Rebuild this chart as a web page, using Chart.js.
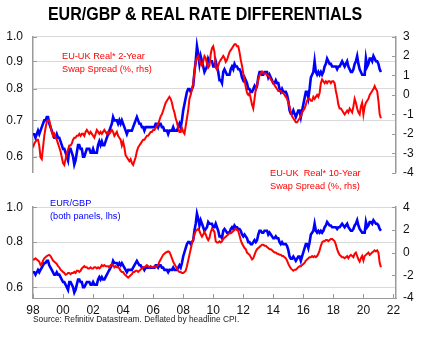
<!DOCTYPE html>
<html>
<head>
<meta charset="utf-8">
<script src="https://cdn.jsdelivr.net/npm/chart.js@4.4.1/dist/chart.umd.min.js"></script>
<style>
  body { margin: 0; background: #fff; }
  #wrap { position: relative; width: 426px; height: 342px; overflow: hidden; font-family: "Liberation Sans", Arial, sans-serif; }
  canvas { position: absolute; left: 0; }
  .txt { position: absolute; white-space: nowrap; z-index: 2; }
  .note { font-size: 9.2px; line-height: 13px; }
  .red { color: #ff0000; }
  .blue { color: #0000ff; }
</style>
</head>
<body>
<div id="wrap">
  <canvas id="topChart" width="426" height="190" style="top:0"></canvas>
  <canvas id="bottomChart" width="426" height="152" style="top:190px"></canvas>

  <div class="txt" id="title" style="left:0;top:4.3px;width:410px;text-align:center;font-weight:bold;font-size:18.5px;line-height:20px;transform:scaleX(0.866);color:#000">EUR/GBP &amp; REAL RATE DIFFERENTIALS</div>
  <div class="txt note red" style="left:62px;top:49.6px">EU-UK Real* 2-Year<br>Swap Spread (%, rhs)</div>
  <div class="txt note red" style="left:270px;top:167px">EU-UK&nbsp; Real* 10-Year<br>Swap Spread (%, rhs)</div>
  <div class="txt note blue" style="left:50px;top:197px">EUR/GBP<br>(both panels, lhs)</div>
  <div class="txt" style="left:33px;top:313.8px;font-size:8.4px;line-height:10px;color:#222">Source: Refinitiv Datastream. Deflated by headline CPI.</div>
</div>

<script>
'use strict';

// #pragma Data (monthly, Jan 1998 - Mar 2021)

let startYear = 1998;

let eurGbp = [
  0.66, 0.66, 0.65, 0.66, 0.67, 0.66, 0.67, 0.68, 0.69, 0.70, 0.70, 0.71, // 1998
  0.71, 0.69, 0.68, 0.67, 0.66, 0.65, 0.65, 0.66, 0.65, 0.65, 0.64, 0.63, // 1999
  0.62, 0.62, 0.61, 0.60, 0.59, 0.62, 0.62, 0.61, 0.60, 0.58, 0.59, 0.61, // 2000
  0.63, 0.63, 0.62, 0.62, 0.60, 0.60, 0.61, 0.62, 0.62, 0.62, 0.61, 0.61, // 2001
  0.62, 0.61, 0.61, 0.61, 0.63, 0.64, 0.63, 0.64, 0.63, 0.63, 0.64, 0.65, // 2002
  0.66, 0.67, 0.68, 0.69, 0.71, 0.70, 0.70, 0.70, 0.69, 0.70, 0.69, 0.70, // 2003
  0.69, 0.68, 0.67, 0.66, 0.67, 0.67, 0.67, 0.67, 0.68, 0.69, 0.70, 0.71, // 2004
  0.70, 0.69, 0.69, 0.68, 0.68, 0.67, 0.68, 0.68, 0.68, 0.68, 0.68, 0.68, // 2005
  0.68, 0.68, 0.69, 0.69, 0.68, 0.69, 0.69, 0.68, 0.68, 0.67, 0.67, 0.67, // 2006
  0.66, 0.67, 0.67, 0.67, 0.68, 0.67, 0.67, 0.67, 0.68, 0.69, 0.68, 0.70, // 2007
  0.73, 0.75, 0.77, 0.79, 0.80, 0.80, 0.79, 0.80, 0.81, 0.86, 0.90, 0.96, // 2008
  0.93, 0.89, 0.92, 0.90, 0.88, 0.86, 0.87, 0.88, 0.91, 0.90, 0.90, 0.90, // 2009
  0.88, 0.88, 0.90, 0.88, 0.86, 0.83, 0.83, 0.82, 0.86, 0.87, 0.86, 0.85, // 2010
  0.85, 0.85, 0.87, 0.88, 0.87, 0.89, 0.88, 0.88, 0.87, 0.87, 0.86, 0.84, // 2011
  0.83, 0.84, 0.83, 0.82, 0.80, 0.80, 0.79, 0.79, 0.80, 0.81, 0.80, 0.81, // 2012
  0.84, 0.86, 0.86, 0.85, 0.85, 0.86, 0.86, 0.86, 0.84, 0.85, 0.84, 0.83, // 2013
  0.82, 0.82, 0.83, 0.82, 0.82, 0.80, 0.79, 0.80, 0.79, 0.79, 0.79, 0.78, // 2014
  0.76, 0.73, 0.72, 0.72, 0.73, 0.72, 0.71, 0.72, 0.73, 0.73, 0.71, 0.73, // 2015
  0.75, 0.77, 0.79, 0.79, 0.77, 0.80, 0.84, 0.85, 0.86, 0.90, 0.86, 0.85, // 2016
  0.86, 0.85, 0.86, 0.85, 0.86, 0.88, 0.89, 0.91, 0.90, 0.89, 0.89, 0.88, // 2017
  0.88, 0.88, 0.88, 0.87, 0.88, 0.88, 0.89, 0.90, 0.89, 0.88, 0.89, 0.90, // 2018
  0.88, 0.87, 0.86, 0.86, 0.87, 0.89, 0.90, 0.92, 0.89, 0.87, 0.86, 0.85, // 2019
  0.85, 0.85, 0.91, 0.88, 0.89, 0.91, 0.91, 0.90, 0.92, 0.91, 0.90, 0.90, // 2020
  0.89, 0.87, 0.86                                                        // 2021
];

let swap2y = [
  -2.7, -2.5, -2.4, -2.3, -2.3, -2.6, -3.2, -3.3, -2.7, -2.1, -1.7, -1.4, // 1998
  -1.3, -1.3, -1.6, -1.9, -2.1, -2.0, -2.2, -2.3, -2.5, -2.7, -2.9, -3.2, // 1999
  -3.5, -3.6, -3.3, -3.0, -2.8, -2.6, -2.6, -2.5, -2.3, -2.2, -2.2, -2.1, // 2000
  -2.1, -2.0, -2.1, -2.0, -2.0, -2.1, -1.9, -1.8, -1.9, -2.0, -1.9, -2.0, // 2001
  -2.1, -2.2, -2.0, -1.8, -1.9, -2.0, -1.9, -2.0, -1.9, -1.8, -1.9, -2.0, // 2002
  -1.9, -2.0, -1.9, -1.8, -1.9, -2.1, -2.0, -1.9, -2.1, -2.2, -2.3, -2.6, // 2003
  -2.4, -2.7, -3.1, -3.2, -3.3, -3.4, -3.3, -3.5, -3.6, -3.4, -3.2, -2.9, // 2004
  -2.7, -2.6, -2.5, -2.4, -2.3, -2.3, -2.2, -2.1, -2.1, -2.0, -1.9, -1.9, // 2005
  -1.8, -1.8, -1.7, -1.6, -1.5, -1.3, -1.1, -1.0, -0.8, -0.6, -0.4, -0.3, // 2006
  -0.2, -0.1, -0.2, -0.4, -0.7, -0.9, -1.2, -1.4, -1.7, -1.9, -1.9, -1.7, // 2007
  -1.9, -2.0, -1.6, -1.2, -0.8, -0.2, 0.0, 0.3, 0.6, 1.2, 1.7, 1.9,       // 2008
  2.0, 1.8, 1.6, 1.5, 1.7, 2.0, 1.9, 1.6, 1.4, 1.5, 2.1, 2.4,             // 2009
  2.5, 2.2, 1.4, 1.3, 1.5, 1.7, 1.8, 1.9, 2.0, 1.9, 1.7, 1.8,             // 2010
  2.0, 2.2, 2.3, 2.4, 2.5, 2.6, 2.6, 2.5, 2.5, 2.2, 1.8, 1.5,             // 2011
  1.1, 0.8, 0.4, 0.1, 0.0, 0.1, -0.2, -0.5, -0.7, -0.2, 0.3, 0.5,         // 2012
  0.8, 1.0, 1.1, 1.2, 1.1, 1.1, 1.1, 1.0, 1.0, 0.9, 0.8, 0.7,             // 2013
  0.6, 0.5, 0.4, 0.3, 0.2, 0.2, 0.2, 0.1, 0.1, 0.0, -0.1, -0.2,           // 2014
  -0.4, -0.6, -0.9, -1.1, -1.2, -1.3, -1.4, -1.4, -1.3, -1.2, -1.1, -0.9, // 2015
  -0.8, -0.7, -0.5, -0.3, -0.2, -0.2, -0.3, -0.3, -0.1, -0.2, -0.1, 0.0,  // 2016
  -0.1, 0.1, 0.6, 0.8, 0.7, 0.6, 0.7, 0.6, 0.7, 0.7, 0.6, 0.7,            // 2017
  0.7, 0.6, 0.2, -0.1, -0.5, -0.7, -0.7, -0.8, -0.9, -1.0, -0.9, -0.8,    // 2018
  -0.9, -0.7, -0.8, -0.9, -0.6, -0.2, -0.4, -0.7, -0.9, -1.0, -0.6, -0.4, // 2019
  -1.0, -0.6, -0.4, -0.3, -0.2, 0.0, 0.1, 0.2, 0.3, 0.45, 0.3, 0.2,       // 2020
  -0.3, -1.0, -1.2                                                        // 2021
];

let swap10y = [
  -0.6, -0.6, -0.5, -0.6, -0.7, -0.8, -1.1, -1.0, -0.7, -0.5, -0.4, -0.3,   // 1998
  -0.25, -0.2, -0.3, -0.5, -0.7, -0.8, -0.9, -1.0, -1.2, -1.3, -1.5, -1.6,  // 1999
  -1.7, -1.8, -1.95, -1.9, -1.8, -1.8, -1.9, -1.8, -1.8, -1.7, -1.8, -1.6,  // 2000
  -1.6, -1.7, -1.6, -1.4, -1.3, -1.2, -1.3, -1.3, -1.4, -1.4, -1.3, -1.4,   // 2001
  -1.4, -1.3, -1.3, -1.4, -1.3, -1.4, -1.3, -1.1, -1.2, -1.1, -1.2, -1.2,   // 2002
  -1.2, -1.3, -1.1, -1.0, -1.1, -1.3, -1.2, -1.3, -1.3, -1.4, -1.6, -1.7,   // 2003
  -1.7, -1.9, -2.0, -2.1, -2.2, -2.1, -2.0, -1.9, -1.7, -1.7, -1.6, -1.6,   // 2004
  -1.7, -1.6, -1.5, -1.4, -1.3, -1.3, -1.2, -1.1, -1.2, -1.3, -1.2, -1.3,   // 2005
  -1.3, -1.2, -1.3, -1.2, -1.1, -0.8, -0.6, -0.4, -0.2, -0.1, 0.0, 0.05,    // 2006
  0.1, 0.05, -0.2, -0.5, -0.8, -1.0, -1.2, -1.4, -1.6, -1.7, -1.7, -1.8,    // 2007
  -1.8, -1.7, -1.6, -1.2, -0.7, -0.2, 0.3, 0.8, 1.2, 1.6, 1.9, 2.0,         // 2008
  2.1, 1.9, 1.6, 1.4, 1.6, 1.8, 1.6, 1.3, 1.1, 1.3, 1.8, 2.1,               // 2009
  2.0, 1.8, 1.0, 0.9, 0.9, 1.0, 0.9, 1.0, 1.2, 1.3, 1.4, 1.5,               // 2010
  1.6, 1.7, 1.7, 1.8, 1.9, 2.0, 2.1, 2.0, 1.9, 1.5, 1.1, 0.8,               // 2011
  0.6, 0.4, 0.3, 0.0, -0.1, -0.2, -0.4, -0.6, -0.5, -0.2, 0.1, 0.3,         // 2012
  0.4, 0.5, 0.6, 0.7, 0.7, 0.6, 0.6, 0.5, 0.4, 0.3, 0.3, 0.2,               // 2013
  0.1, 0.0, 0.0, -0.1, -0.1, -0.2, -0.2, -0.3, -0.3, -0.4, -0.5, -0.7,      // 2014
  -1.0, -1.2, -1.4, -1.5, -1.6, -1.5, -1.5, -1.4, -1.3, -1.2, -1.2, -1.1,   // 2015
  -1.0, -0.9, -0.7, -0.6, -0.5, -0.4, -0.4, -0.3, -0.4, -0.3, -0.4, -0.3,   // 2016
  -0.1, 0.2, 0.6, 0.9, 1.0, 1.0, 1.1, 1.1, 1.0, 1.1, 1.2, 1.2,              // 2017
  1.1, 1.0, 0.7, 0.3, 0.0, -0.2, -0.3, -0.4, -0.4, -0.5, -0.4, -0.3,        // 2018
  -0.5, -0.3, -0.2, -0.3, -0.4, -0.1, 0.0, -0.3, -0.6, -0.8, -0.5, -0.3,    // 2019
  -0.7, -0.3, -0.2, -0.1, 0.0, -0.2, -0.1, 0.0, 0.1, 0.2, 0.1, 0.2,         // 2020
  0.0, -0.9, -1.3                                                           // 2021
];

// tick labels
let xTickYears = [1998, 2000, 2002, 2004, 2006, 2008, 2010, 2012, 2014, 2016, 2018, 2020, 2022];
let topLeftTicks = [0.6, 0.7, 0.8, 0.9, 1.0];
let topRightTicks = [-4, -3, -2, -1, 0, 1, 2, 3];
let bottomLeftTicks = [0.6, 0.8, 1.0];
let bottomRightTicks = [-4, -2, 0, 2, 4];

// #pragma Helpers

const BLUE = '#0000ff';
const RED = '#ff0000';
const AXIS_GREY = '#9a9a9a';
const GRID_GREY = '#dadada';

Chart.defaults.font.family = '"Liberation Sans", Arial, sans-serif';
Chart.defaults.font.size = 12;
Chart.defaults.color = '#111';

function toPoints(arr) {
  return arr.map((v, i) => ({ x: startYear + i / 12, y: v }));
}

function fixTicks(list) {
  return function (scale) {
    scale.ticks = list.map((v) => ({ value: v }));
  };
}

// small tick marks drawn on the inside of each axis line
const innerTicks = {
  id: 'innerTicks',
  afterDraw(chart) {
    const ctx = chart.ctx;
    const len = 4;
    ctx.save();
    ctx.strokeStyle = AXIS_GREY;
    ctx.lineWidth = 1;
    Object.values(chart.scales).forEach((s) => {
      if (!s.options.display) return;
      s.ticks.forEach((t) => {
        const p = Math.round(s.getPixelForValue(t.value)) + 0.5;
        ctx.beginPath();
        if (s.axis === 'x') {
          ctx.moveTo(p, s.top);
          ctx.lineTo(p, s.top - len);
        } else if (s.position === 'left') {
          ctx.moveTo(s.right, p);
          ctx.lineTo(s.right + len, p);
        } else {
          ctx.moveTo(s.left, p);
          ctx.lineTo(s.left - len, p);
        }
        ctx.stroke();
      });
    });
    ctx.restore();
  }
};

function buildOptions(leftTicks, rightTicks, rightMin, rightMax, showX, padTop, padBottom) {
  return {
    responsive: false,
    animation: false,
    layout: { padding: { top: padTop, bottom: padBottom, left: 0, right: 0 } },
    plugins: { legend: { display: false }, tooltip: { enabled: false } },
    scales: {
      x: {
        type: 'linear',
        min: 1998,
        max: 2022.17,
        display: showX,
        afterBuildTicks: fixTicks(xTickYears),
        afterFit: (s) => { s.height = showX ? 44 : 0; },
        grid: { display: false, drawTicks: false },
        border: { display: true, color: AXIS_GREY, width: 1 },
        ticks: {
          autoSkip: false,
          maxRotation: 0,
          padding: 5,
          callback: (v) => String(v % 100).padStart(2, '0'),
        },
      },
      yL: {
        type: 'logarithmic',
        position: 'left',
        min: 0.56,
        max: 1.0,
        afterBuildTicks: fixTicks(leftTicks),
        afterFit: (s) => { s.width = 33; },
        grid: { color: GRID_GREY, lineWidth: 1, drawTicks: false },
        border: { display: true, color: AXIS_GREY, width: 1.5 },
        ticks: { autoSkip: false, padding: 10, callback: (v) => Number(v).toFixed(1) },
      },
      yR: {
        type: 'linear',
        position: 'right',
        min: rightMin,
        max: rightMax,
        afterBuildTicks: fixTicks(rightTicks),
        afterFit: (s) => { s.width = 30; },
        grid: { drawOnChartArea: false, drawTicks: false },
        border: { display: true, color: AXIS_GREY, width: 1.5 },
        ticks: { autoSkip: false, padding: 7 },
      },
    },
  };
}

// #pragma Charts

let topChart = new Chart(document.getElementById('topChart').getContext('2d'), {
  type: 'line',
  data: {
    datasets: [{
      label: 'EU-UK Real* 2-Year Swap Spread (%, rhs)',
      data: toPoints(swap2y),
      yAxisID: 'yR',
      borderColor: RED,
      borderWidth: 2,
      pointRadius: 0,
    }, {
      label: 'EUR/GBP',
      data: toPoints(eurGbp),
      yAxisID: 'yL',
      borderColor: BLUE,
      borderWidth: 2.6,
      pointRadius: 0,
    }],
  },
  options: buildOptions(topLeftTicks, topRightTicks, -4, 3, false, 36.5, 13.3),
  plugins: [innerTicks],
});

let bottomChart = new Chart(document.getElementById('bottomChart').getContext('2d'), {
  type: 'line',
  data: {
    datasets: [{
      label: 'EU-UK Real* 10-Year Swap Spread (%, rhs)',
      data: toPoints(swap10y),
      yAxisID: 'yR',
      borderColor: RED,
      borderWidth: 2,
      pointRadius: 0,
    }, {
      label: 'EUR/GBP',
      data: toPoints(eurGbp),
      yAxisID: 'yL',
      borderColor: BLUE,
      borderWidth: 2.6,
      pointRadius: 0,
    }],
  },
  options: buildOptions(bottomLeftTicks, bottomRightTicks, -4, 4, true, 10, 0),
  plugins: [innerTicks],
});
</script>
</body>
</html>
